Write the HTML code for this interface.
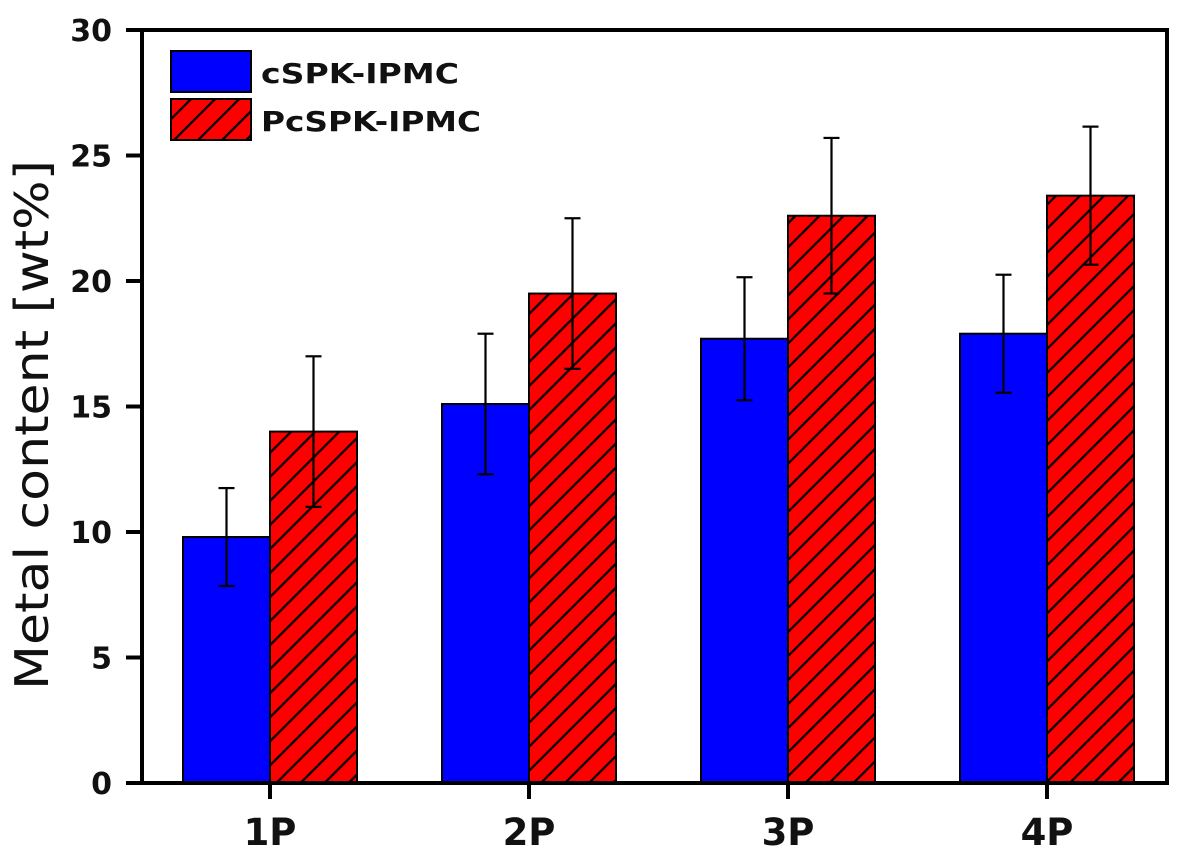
<!DOCTYPE html>
<html><head><meta charset="utf-8"><style>
html,body{margin:0;padding:0;background:#fff;width:1181px;height:855px;overflow:hidden}
svg{display:block}
text{font-family:"DejaVu Sans","Liberation Sans",sans-serif;font-weight:bold;fill:#111}
</style></head><body>
<svg id="chart" width="1181" height="855">
<defs>
<pattern id="hatch" patternUnits="userSpaceOnUse" width="17" height="17" patternTransform="rotate(45)">
<rect width="17" height="17" fill="#ff0000"/>
<line x1="0" y1="0" x2="0" y2="17" stroke="#000" stroke-width="4.5"/>
</pattern>
</defs>
<g id="bars"></g>
<g id="axes"></g>
</svg>
<script>
const categories=["1P","2P","3P","4P"];
const blueVals=[9.8,15.1,17.7,17.9];
const blueErr=[1.95,2.8,2.45,2.35];
const redVals=[14.0,19.5,22.6,23.4];
const redErr=[3.0,3.0,3.1,2.75];
const yTicks=[0,5,10,15,20,25,30];
const seriesNames=["cSPK-IPMC","PcSPK-IPMC"];

const NS="http://www.w3.org/2000/svg";
const L=142,R=1167,T=30,B=783;
const y=v=>B-(v/30)*(B-T);
const xc=i=>270+i*259;
const bw=87;
function mk(tag,attrs,parent){const e=document.createElementNS(NS,tag);for(const k in attrs)e.setAttribute(k,attrs[k]);parent.appendChild(e);return e;}
const bars=document.getElementById('bars');
const axes=document.getElementById('axes');
function drawBar(x,v,err,fill,name){
  const r=mk('rect',{x:x,y:y(v),width:bw,height:B-y(v),fill:fill,stroke:'#000','stroke-width':2},bars);
  
  
  const cx=x+bw/2;
  const g=mk('g',{stroke:'#000','stroke-width':2.2},bars);
  
  
  mk('line',{x1:cx,x2:cx,y1:y(v+err),y2:y(v-err)},g);
  mk('line',{x1:cx-8,x2:cx+8,y1:y(v+err),y2:y(v+err)},g);
  mk('line',{x1:cx-8,x2:cx+8,y1:y(v-err),y2:y(v-err)},g);
}
categories.forEach((c,i)=>{
  drawBar(xc(i)-bw,blueVals[i],blueErr[i],'#0000ff','bar-blue-'+c);
  drawBar(xc(i),redVals[i],redErr[i],'url(#hatch)','bar-red-'+c);
  const t=mk('text',{x:xc(i),y:845,'text-anchor':'middle','font-size':37},axes);
  t.textContent=c;
  
  
  mk('line',{x1:xc(i),x2:xc(i),y1:B,y2:B+16,stroke:'#000','stroke-width':4},axes);
});
const frame=mk('rect',{x:L,y:T,width:R-L,height:B-T,fill:'none',stroke:'#000','stroke-width':4},axes);


yTicks.forEach(v=>{
  mk('line',{x1:L-16,x2:L,y1:y(v),y2:y(v),stroke:'#000','stroke-width':4},axes);
  const t=mk('text',{x:112,y:y(v)+11,'text-anchor':'end','font-size':30},axes);
  t.textContent=v;
  
  
});
const yt=mk('text',{x:0,y:0,'text-anchor':'middle','font-size':46,textLength:530,lengthAdjust:'spacingAndGlyphs',transform:'translate(48,425) rotate(-90)'},axes);
yt.textContent='Metal content [wt%]';
yt.style.fontWeight='normal';


const lg=mk('g',{},axes);


[['#0000ff',51,198],['url(#hatch)',99,220]].forEach((f,i)=>{
  const sw=mk('rect',{x:171,y:f[1],width:80,height:41,fill:f[0],stroke:'#000','stroke-width':2},lg);
  
  
  const t=mk('text',{x:261,y:f[1]+32,'font-size':28,textLength:f[2],lengthAdjust:'spacingAndGlyphs'},lg);
  t.textContent=seriesNames[i];
  
  
});
</script>
</body></html>
